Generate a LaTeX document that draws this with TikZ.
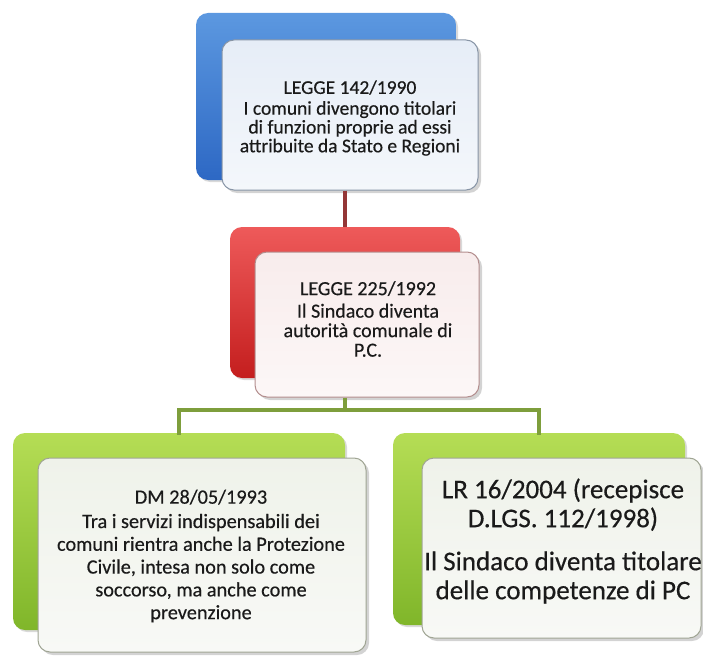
\documentclass[tikz,border=0pt]{standalone}
\usepackage{fontspec}
\setmainfont{Carlito}[FakeBold=0.4]
\usetikzlibrary{shadows}
\definecolor{bluetop}{HTML}{5C98E0}
\definecolor{bluebot}{HTML}{2D68C4}
\definecolor{redtop}{HTML}{EE5A5A}
\definecolor{redbot}{HTML}{C41E1E}
\definecolor{greentop}{HTML}{B5DD55}
\definecolor{greenbot}{HTML}{80B62A}
\definecolor{bluefill}{HTML}{E6EDF7}
\definecolor{bluefillb}{HTML}{F4F7FB}
\definecolor{redfill}{HTML}{F8ECEC}
\definecolor{redfillb}{HTML}{FCF7F7}
\definecolor{greenfill}{HTML}{EFF2EA}
\definecolor{greenfillb}{HTML}{F8F9F6}
\definecolor{blueline}{HTML}{8895A6}
\definecolor{redline}{HTML}{B38E8E}
\definecolor{greenline}{HTML}{A0A594}
\definecolor{redconn}{HTML}{943636}
\definecolor{greenconn}{HTML}{7E9E3C}
\definecolor{txt}{HTML}{1A1A1A}
\tikzset{
  backbox/.style={rectangle, rounded corners=12pt, inner sep=0pt,
    drop shadow={shadow xshift=2pt, shadow yshift=-2pt, opacity=0.3}},
  frontbox/.style={rectangle, rounded corners=12pt, inner sep=0pt, draw, line width=1pt,
    drop shadow={shadow xshift=3pt, shadow yshift=-3pt, opacity=0.35}},
  textblk/.style={align=center, text=txt, inner sep=0pt},
  blueback/.style={backbox, top color=bluetop, bottom color=bluebot},
  redback/.style={backbox, top color=redtop, bottom color=redbot},
  greenback/.style={backbox, top color=greentop, bottom color=greenbot},
  bluefront/.style={frontbox, top color=bluefill, bottom color=bluefillb, draw=blueline},
  redfront/.style={frontbox, top color=redfill, bottom color=redfillb, draw=redline},
  greenfront/.style={frontbox, top color=greenfill, bottom color=greenfillb, draw=greenline},
  conn/.style={line width=4pt},
}
\begin{document}
\begin{tikzpicture}[x=1pt,y=-1pt]
\useasboundingbox (0,0) rectangle (703,655);
\coordinate (hl) at (0,410);
% top
\node[blueback, minimum width=260pt, minimum height=167pt] (tb) at (326,96.5) {};
\node[bluefront, minimum width=256pt, minimum height=150pt] (tf) at (350,115) {};
\node[textblk, font=\fontsize{19.5}{18.8}\selectfont] (tft) at (350,118)
  {LEGGE 142/1990\\[2pt]
   I comuni divengono titolari\\ di funzioni proprie ad essi\\ attribuite da Stato e Regioni};
% red
\node[redback, minimum width=230pt, minimum height=151pt] (rb) at (345,302.5) {};
\draw[conn, redconn] (tf.south -| rb.north) -- (rb.north);
\node[redfront, minimum width=224pt, minimum height=145pt] (rf) at (367,324.5) {};
\node[textblk, font=\fontsize{20}{19.5}\selectfont] (rft) at (368,319)
  {LEGGE 225/1992\\[3pt]
   Il Sindaco diventa\\ autorità comunale di\\ P.C.};
% green
\node[greenback, minimum width=332pt, minimum height=197pt] (lb) at (179,531.5) {};
\node[greenback, minimum width=292pt, minimum height=192pt] (gb) at (539,529) {};
\draw[conn, greenconn, line cap=rect] (lb.north) -- (lb.north |- hl) -- (gb.north |- hl) -- (gb.north);
\draw[conn, greenconn] (rf.south -| rb.north) -- (rb.north |- hl);
\node[greenfront, minimum width=328pt, minimum height=194pt] (lf) at (202,555) {};
\node[textblk, font=\fontsize{20.3}{22.8}\selectfont] (lft) at (201,556)
  {DM 28/05/1993\\[1.5pt]
   Tra i servizi indispensabili dei\\ comuni rientra anche la Protezione\\ Civile, intesa non solo come\\ soccorso, ma anche come\\ prevenzione};
\node[greenfront, minimum width=279pt, minimum height=180pt] (rgf) at (561.5,548) {};
\node[textblk, font=\fontsize{27}{29}\selectfont] (rgt) at (563,541)
  {LR 16/2004 (recepisce\\ D.LGS. 112/1998)\\[14pt]
   Il Sindaco diventa titolare\\ delle competenze di PC};
\end{tikzpicture}
\end{document}
